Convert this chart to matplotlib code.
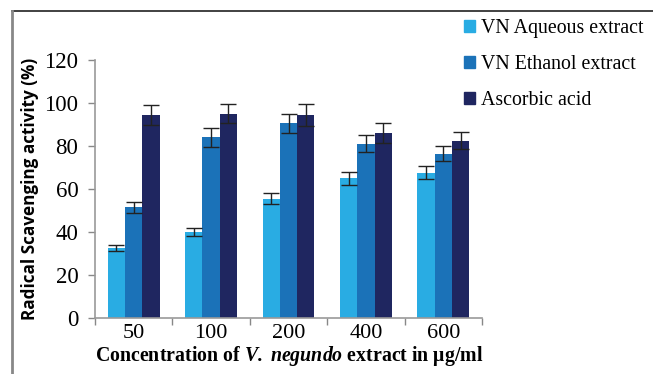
import matplotlib
matplotlib.use("Agg")
import matplotlib.pyplot as plt
from matplotlib.lines import Line2D
from matplotlib.patches import Rectangle
import numpy as np

plt.rcParams["mathtext.fontset"] = "custom"
plt.rcParams["mathtext.rm"] = "Liberation Serif"
plt.rcParams["mathtext.it"] = "Liberation Serif:italic"
plt.rcParams["mathtext.bf"] = "Liberation Serif:bold"
plt.rcParams["mathtext.bfit"] = "Liberation Serif:bold:italic"

categories = ["50", "100", "200", "400", "600"]
series_names = ["VN Aqueous extract", "VN Ethanol extract", "Ascorbic acid"]
aqueous = [32.5, 40.0, 55.5, 65.0, 67.5]
aqueous_err = [1.5, 2.0, 2.5, 3.0, 3.0]
ethanol = [51.5, 84.0, 90.5, 81.0, 76.5]
ethanol_err = [2.5, 4.5, 4.5, 4.0, 3.5]
ascorbic = [94.5, 95.0, 94.5, 86.0, 82.5]
ascorbic_err = [4.5, 4.5, 5.0, 4.5, 4.0]
colors = ["#29ace3", "#1b72b8", "#1f2660"]

fig = plt.figure(figsize=(6.53, 3.74), dpi=100)
ax = fig.add_axes([95/653, 1-318/374, (482-95)/653, (318-60)/374])

x = np.arange(len(categories))
w = 0.223
vals = [aqueous, ethanol, ascorbic]
errs = [aqueous_err, ethanol_err, ascorbic_err]
for i in range(3):
    ax.bar(x + (i-1)*w, vals[i], w, color=colors[i], label=series_names[i],
           yerr=errs[i], error_kw=dict(ecolor="#222222", elinewidth=1.0, capsize=6, capthick=1.0))

ax.set_xlim(-0.5, len(categories)-0.5)
ax.set_ylim(0, 120)
ax.set_yticks(range(0, 121, 20))
ax.set_xticks(x)
ax.set_xticklabels(categories)
ax.set_xticks(np.arange(-0.5, len(categories), 1), minor=True)
ax.tick_params(axis="x", which="major", length=0, pad=4,
               labelsize=16, labelfontfamily="Liberation Serif")
ax.tick_params(axis="x", which="minor", length=5, color="#888888", width=1)
ax.tick_params(axis="y", length=5, color="#888888", width=1, pad=7,
               labelsize=16.5, labelfontfamily="Liberation Serif")
for s in ["top", "right"]:
    ax.spines[s].set_visible(False)
for s in ["left", "bottom"]:
    ax.spines[s].set_color("#999999")
    ax.spines[s].set_linewidth(1.2)

ax.set_ylabel("Radical Scavenging activity (%)", fontfamily="Open Sans", fontweight="bold",
              fontsize=12.3, labelpad=4)
fig.text(289/653, 1-356/374, r"Concentration of $\mathbfit{V.}$ $\mathbfit{negundo}$ extract in μg/ml",
         ha="center", va="center", fontfamily="Liberation Serif", fontweight="bold", fontsize=14.3)

handles = [Rectangle((0, 0), 1, 1, color=c) for c in colors]
leg = fig.legend(handles, series_names, loc="upper left", bbox_to_anchor=(464/653, 1-19/374),
                 frameon=False, prop={"family": "Liberation Serif", "size": 14.3},
                 handlelength=0.55, handleheight=0.55, handletextpad=0.3, labelspacing=0.85,
                 borderaxespad=0, borderpad=0)

# figure frame lines (top and left)
fig.add_artist(Line2D([12/653, 1], [1-11/374, 1-11/374], color="#333333", lw=1.3, transform=fig.transFigure))
fig.add_artist(Line2D([12/653, 12/653], [0, 1-11/374], color="#888888", lw=2, transform=fig.transFigure))

fig.savefig("out.png", dpi=100)
